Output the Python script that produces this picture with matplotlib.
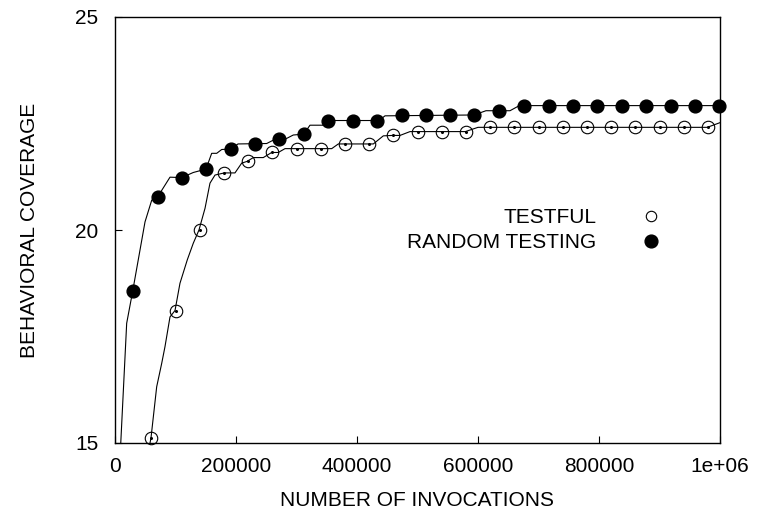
import matplotlib
matplotlib.use('Agg')
import matplotlib.pyplot as plt
from matplotlib.lines import Line2D
import numpy as np

plt.rcParams['font.family'] = ['Liberation Sans', 'DejaVu Sans']

# sampled points shown with markers
testful_x = np.arange(60000, 1000000, 40000)
testful_y = [15.12, 18.11, 20.00, 21.34, 21.61, 21.82, 21.91, 21.91, 22.02, 22.02,
             22.22, 22.31, 22.31, 22.31, 22.41, 22.41, 22.41, 22.41, 22.41, 22.41,
             22.41, 22.41, 22.41, 22.41]

random_x = [29300, 70600, 110200, 150400, 191200, 231400, 271600, 311900, 352600,
            392900, 433100, 473900, 514000, 554200, 593400, 635200, 676500, 716900,
            757000, 797400, 837700, 878000, 918300, 958700, 998800]
random_y = [18.57, 20.78, 21.23, 21.43, 21.90, 22.03, 22.13, 22.25, 22.57, 22.57,
            22.57, 22.69, 22.69, 22.70, 22.70, 22.80, 22.92, 22.92, 22.92, 22.92,
            22.92, 22.92, 22.92, 22.92, 22.92]

# full curves (thin lines)
testful_line_x = [56200, 59500, 68900, 77200, 82600, 90900, 99200, 107400, 119500,
                  129400, 138800, 148800, 157000, 165300, 180700, 198300, 209400,
                  218200, 228600, 245100, 259000, 269900, 281000, 358200, 369100,
                  427000, 443500, 459000, 471100, 487600, 579000, 600000, 979000,
                  1000000]
testful_line_y = [14.88, 15.12, 16.32, 16.87, 17.26, 17.96, 18.11, 18.75, 19.30,
                  19.69, 20.00, 20.51, 21.10, 21.29, 21.34, 21.34, 21.57, 21.61,
                  21.70, 21.70, 21.82, 21.82, 21.91, 21.91, 22.02, 22.02, 22.21,
                  22.22, 22.22, 22.31, 22.31, 22.41, 22.41, 22.52]

random_line_x = [9100, 19300, 29300, 49600, 60700, 70600, 90900, 110200, 129400,
                 150400, 159800, 168100, 176400, 191200, 203300, 250700, 264500,
                 281000, 294700, 311900, 322300, 344300, 352600, 436400, 446300,
                 593400, 613200, 652900, 668300, 998800]
random_line_y = [14.88, 17.81, 18.57, 20.19, 20.70, 20.78, 21.24, 21.23, 21.35,
                 21.43, 21.80, 21.80, 21.89, 21.90, 22.02, 22.03, 22.13, 22.13,
                 22.23, 22.25, 22.46, 22.46, 22.57, 22.57, 22.68, 22.70, 22.80,
                 22.80, 22.92, 22.92]

xticks = [0, 200000, 400000, 600000, 800000, 1000000]
xtick_labels = ['0', '200000', '400000', '600000', '800000', '1e+06']
yticks = [15, 20, 25]

FS = 15

fig = plt.figure(figsize=(7.63, 5.21), dpi=100)
ax = fig.add_axes([115 / 763, 1 - 443 / 521, 605 / 763, 426 / 521])

ax.plot(testful_line_x, testful_line_y, color='black', linewidth=0.8, zorder=2)
ax.plot(random_line_x, random_line_y, color='black', linewidth=0.8, zorder=2)

ax.plot(testful_x, testful_y, linestyle='none', marker='o', markersize=9,
        markerfacecolor='none', markeredgecolor='black', markeredgewidth=0.8,
        clip_on=False, zorder=3)
ax.plot(testful_x, testful_y, linestyle='none', marker='o', markersize=1.2,
        color='black', clip_on=False, zorder=3)
ax.plot(random_x, random_y, linestyle='none', marker='o', markersize=9.2,
        color='black', clip_on=False, zorder=4)

ax.set_xlim(0, 1000000)
ax.set_ylim(15, 25)
ax.set_xticks(xticks)
ax.set_xticklabels(xtick_labels)
ax.set_yticks(yticks)
ax.tick_params(direction='in', length=5, width=0.8, labelsize=FS)
ax.tick_params(axis='x', pad=10)
ax.tick_params(axis='y', pad=12)
for sp in ax.spines.values():
    sp.set_linewidth(1.0)

ax.set_xlabel('NUMBER OF INVOCATIONS', fontsize=FS, labelpad=11)
ax.set_ylabel('BEHAVIORAL COVERAGE', fontsize=FS, labelpad=26)

handles = [
    Line2D([], [], linestyle='none', marker='o', markersize=7.5, markerfacecolor='none',
           markeredgecolor='black', markeredgewidth=0.8),
    Line2D([], [], linestyle='none', marker='o', markersize=9.2, color='black'),
]
ax.legend(handles, ['TESTFUL', 'RANDOM TESTING'], loc='upper right',
          bbox_to_anchor=(672 / 763, 1 - 208 / 521), bbox_transform=fig.transFigure,
          frameon=False, markerfirst=False, fontsize=FS, handlelength=2,
          handletextpad=1.64, labelspacing=0.3, borderpad=0, borderaxespad=0)

fig.savefig('out.png', dpi=100)
